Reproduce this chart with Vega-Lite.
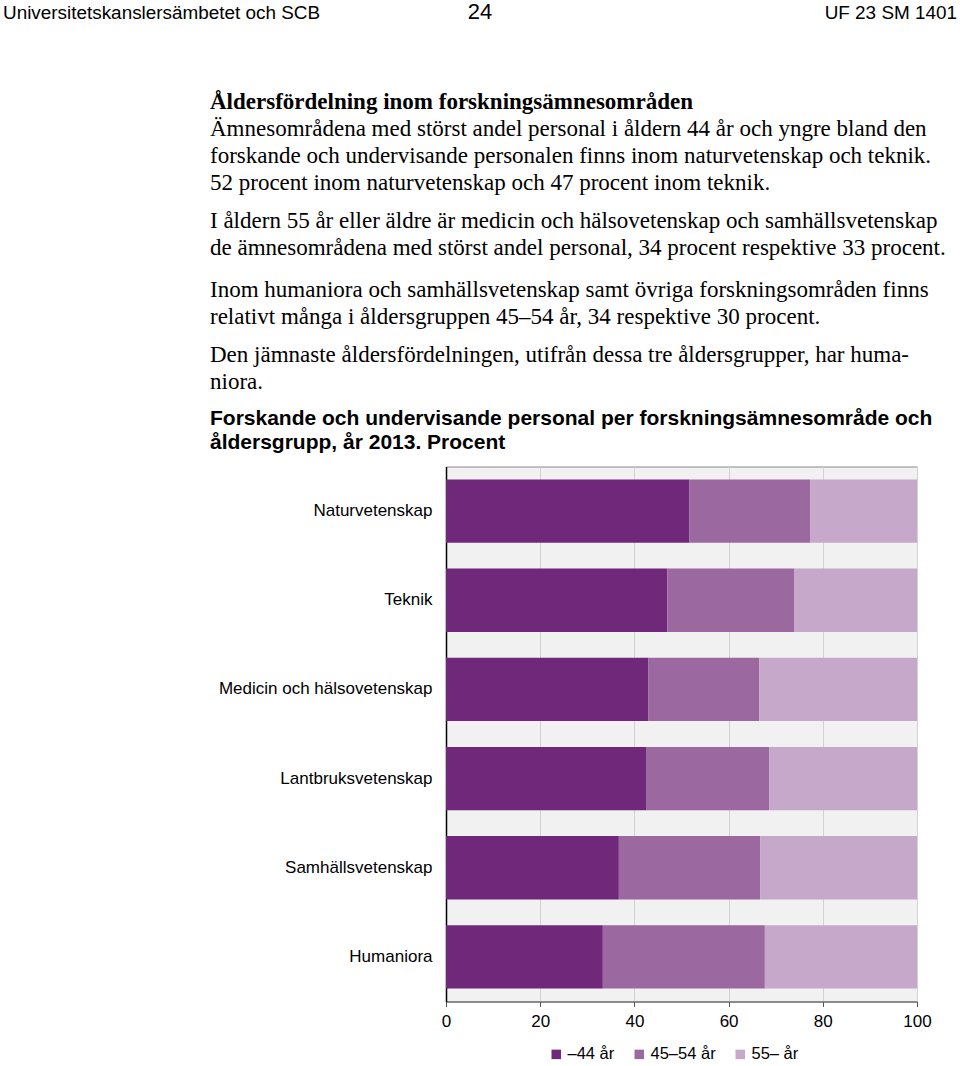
{
  "$schema": "https://vega.github.io/schema/vega-lite/v6.json",
  "background": "white",
  "padding": {"left": 3, "top": 0.5, "right": 0, "bottom": 0},
  "bounds": "flush",
  "spacing": 0,
  "resolve": {"scale": {"color": "independent"}, "legend": {"color": "independent"}},
  "vconcat": [
    {
      "width": 471, "height": 1,
      "data": {"values": []},
      "mark": {"type": "text"},
      "encoding": {},
      "title": {"text": "Universitetskanslersämbetet och SCB", "font": "Liberation Sans", "fontSize": 18.9, "fontWeight": "normal", "anchor": "start", "dx": -443, "offset": 2.7}
    },
    {
      "width": 471, "height": 1,
      "data": {"values": []},
      "mark": {"type": "text"},
      "encoding": {},
      "title": {"text": "24", "font": "Liberation Sans", "fontSize": 22, "fontWeight": "normal", "anchor": "middle", "dx": -201.5, "offset": 2.2}
    },
    {
      "width": 471, "height": 167,
      "data": {"values": []},
      "mark": {"type": "text"},
      "encoding": {},
      "title": {"text": "UF 23 SM 1401", "font": "Liberation Sans", "fontSize": 18.9, "fontWeight": "normal", "anchor": "end", "dx": 40, "offset": 4.7}
    },
    {
      "width": 471, "height": 64.2,
      "data": {"values": []},
      "mark": {"type": "text"},
      "encoding": {},
      "title": {
        "text": "Åldersfördelning inom forskningsämnesområden",
        "subtitle": [
          "Ämnesområdena med störst andel personal i åldern 44 år och yngre bland den",
          "forskande och undervisande personalen finns inom naturvetenskap och teknik.",
          "52 procent inom naturvetenskap och 47 procent inom teknik."
        ],
        "font": "Liberation Serif", "fontSize": 23, "fontWeight": "bold",
        "subtitleFont": "Liberation Serif", "subtitleFontSize": 23, "subtitleFontWeight": "normal",
        "subtitleColor": "black", "subtitleLineHeight": 27, "subtitlePadding": 4,
        "anchor": "start", "dx": -236, "offset": 0
      }
    },
    {
      "width": 471, "height": 68.5,
      "data": {"values": []},
      "mark": {"type": "text"},
      "encoding": {},
      "title": {
        "text": [
          "I åldern 55 år eller äldre är medicin och hälsovetenskap och samhällsvetenskap",
          "de ämnesområdena med störst andel personal, 34 procent respektive 33 procent."
        ],
        "font": "Liberation Serif", "fontSize": 23, "fontWeight": "normal", "lineHeight": 27,
        "anchor": "start", "dx": -236, "offset": 0
      }
    },
    {
      "width": 471, "height": 65,
      "data": {"values": []},
      "mark": {"type": "text"},
      "encoding": {},
      "title": {
        "text": [
          "Inom humaniora och samhällsvetenskap samt övriga forskningsområden finns",
          "relativt många i åldersgruppen 45–54 år, 34 respektive 30 procent."
        ],
        "font": "Liberation Serif", "fontSize": 23, "fontWeight": "normal", "lineHeight": 27,
        "anchor": "start", "dx": -236, "offset": 0
      }
    },
    {
      "width": 471, "height": 72.4,
      "data": {"values": []},
      "mark": {"type": "text"},
      "encoding": {},
      "title": {
        "text": [
          "Den jämnaste åldersfördelningen, utifrån dessa tre åldersgrupper, har huma-",
          "niora."
        ],
        "font": "Liberation Serif", "fontSize": 23, "fontWeight": "normal", "lineHeight": 27,
        "anchor": "start", "dx": -236, "offset": 0
      }
    },
    {
      "width": 471, "height": 535,
      "view": {"fill": "#f1f1f1", "stroke": "#8a8a8a", "strokeWidth": 1},
      "title": {
        "text": ["Forskande och undervisande personal per forskningsämnesområde och", "åldersgrupp, år 2013. Procent"],
        "font": "Liberation Sans", "fontSize": 21, "fontWeight": "bold", "lineHeight": 24,
        "anchor": "start", "dx": -236, "offset": 13.7
      },
      "data": {
        "values": [
          {"omrade": "Naturvetenskap", "alder": "–44 år", "andel": 51.7},
          {"omrade": "Naturvetenskap", "alder": "45–54 år", "andel": 25.6},
          {"omrade": "Naturvetenskap", "alder": "55– år", "andel": 22.7},
          {"omrade": "Teknik", "alder": "–44 år", "andel": 47.0},
          {"omrade": "Teknik", "alder": "45–54 år", "andel": 27.0},
          {"omrade": "Teknik", "alder": "55– år", "andel": 26.0},
          {"omrade": "Medicin och hälsovetenskap", "alder": "–44 år", "andel": 43.0},
          {"omrade": "Medicin och hälsovetenskap", "alder": "45–54 år", "andel": 23.5},
          {"omrade": "Medicin och hälsovetenskap", "alder": "55– år", "andel": 33.5},
          {"omrade": "Lantbruksvetenskap", "alder": "–44 år", "andel": 42.6},
          {"omrade": "Lantbruksvetenskap", "alder": "45–54 år", "andel": 26.0},
          {"omrade": "Lantbruksvetenskap", "alder": "55– år", "andel": 31.4},
          {"omrade": "Samhällsvetenskap", "alder": "–44 år", "andel": 36.7},
          {"omrade": "Samhällsvetenskap", "alder": "45–54 år", "andel": 30.0},
          {"omrade": "Samhällsvetenskap", "alder": "55– år", "andel": 33.3},
          {"omrade": "Humaniora", "alder": "–44 år", "andel": 33.3},
          {"omrade": "Humaniora", "alder": "45–54 år", "andel": 34.4},
          {"omrade": "Humaniora", "alder": "55– år", "andel": 32.3}
        ]
      },
      "transform": [
        {"calculate": "indexof(['–44 år', '45–54 år', '55– år'], datum.alder)", "as": "ordning"}
      ],
      "mark": {"type": "bar"},
      "encoding": {
        "y": {
          "field": "omrade", "type": "nominal",
          "sort": ["Naturvetenskap", "Teknik", "Medicin och hälsovetenskap", "Lantbruksvetenskap", "Samhällsvetenskap", "Humaniora"],
          "scale": {"paddingInner": 0.29, "paddingOuter": 0.145},
          "axis": {"title": null, "ticks": false, "grid": false, "domain": true, "domainColor": "black", "domainWidth": 1.5, "labelFont": "Liberation Sans", "labelFontSize": 17, "labelColor": "black", "labelPadding": 14, "labelLimit": 400}
        },
        "x": {
          "field": "andel", "type": "quantitative", "stack": "zero",
          "scale": {"domain": [0, 100], "nice": false},
          "axis": {"title": null, "values": [0, 20, 40, 60, 80, 100], "grid": true, "gridColor": "#d2d2d2", "gridWidth": 1, "domainColor": "#555555", "tickColor": "#555555", "tickSize": 5, "labelFont": "Liberation Sans", "labelFontSize": 17, "labelColor": "black", "labelPadding": 7, "labelFlush": false}
        },
        "order": {"field": "ordning", "type": "quantitative"},
        "color": {
          "field": "alder", "type": "nominal",
          "sort": ["–44 år", "45–54 år", "55– år"],
          "scale": {"domain": ["–44 år", "45–54 år", "55– år"], "range": ["#70287a", "#9b69a0", "#c5a8ca"]},
          "legend": {"title": null, "orient": "none", "legendX": 102, "legendY": 579.5, "direction": "horizontal", "symbolType": "square", "symbolSize": 90, "symbolStrokeWidth": 0, "labelFont": "Liberation Sans", "labelFontSize": 16.5, "labelColor": "black", "labelOffset": 3, "columnPadding": 16, "padding": 0}
        }
      }
    }
  ],
  "config": {
    "view": {"stroke": null},
    "title": {"anchor": "start", "frame": "group", "color": "black", "offset": 0}
  }
}
